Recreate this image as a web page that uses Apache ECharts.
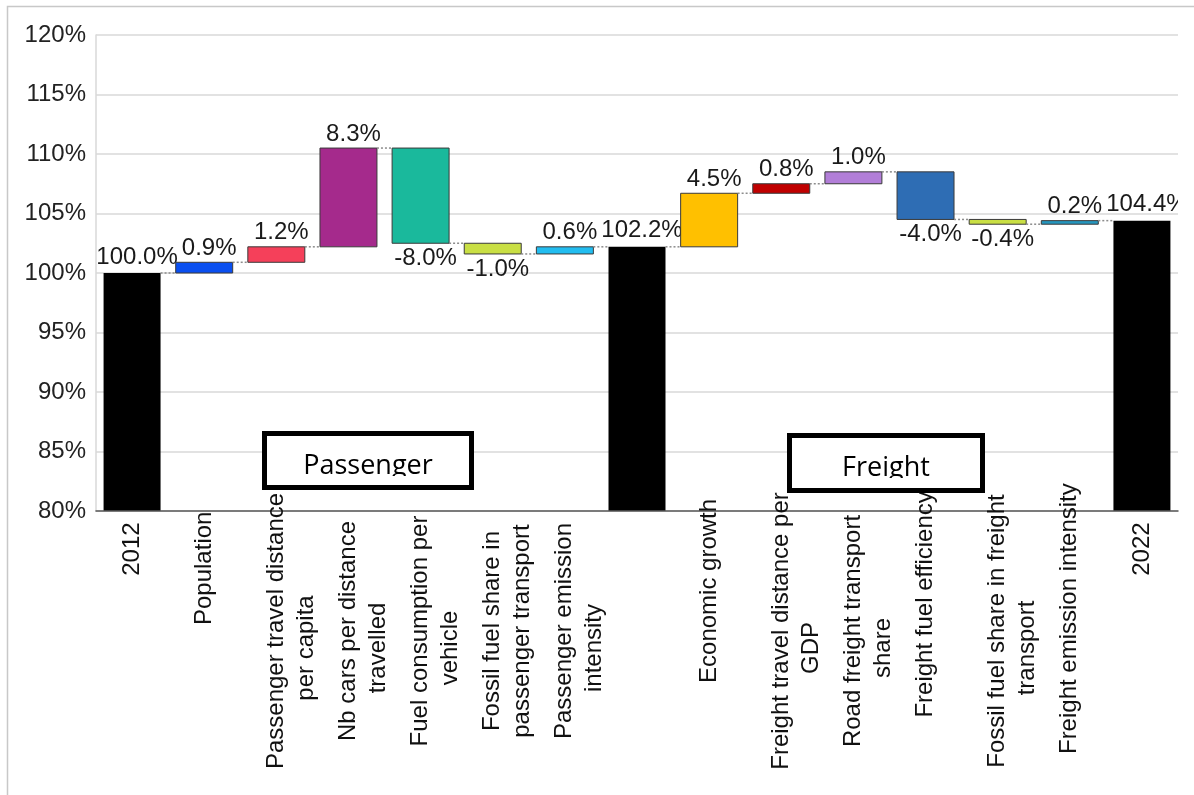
<!DOCTYPE html>
<html>
<head>
<meta charset="utf-8">
<script src="https://cdn.jsdelivr.net/npm/echarts@6/dist/echarts.min.js"></script>
<style>
html,body{margin:0;padding:0;background:#fff;}
#chart{width:1194px;height:795px;}
</style>
</head>
<body>
<div id="chart"></div>
<script>
// ---------- data ----------
const categories = [
  '2012',
  'Population',
  'Passenger travel distance\nper capita',
  'Nb cars per distance\ntravelled',
  'Fuel consumption per\nvehicle',
  'Fossil fuel share in\npassenger transport',
  'Passenger emission\nintensity',
  '',
  'Economic growth',
  'Freight travel distance per\nGDP',
  'Road freight transport\nshare',
  'Freight fuel efficiency',
  'Fossil fuel share in freight\ntransport',
  'Freight emission intensity',
  '2022'
];
// level bars (null = change bar)
const totalValues = [100.0, null, null, null, null, null, null, 102.2, null, null, null, null, null, null, 104.4];
// change bars, in percentage points (null = level bar)
const changeValues = [null, 0.9, 1.3, 8.3, -8.0, -0.9, 0.6, null, 4.5, 0.8, 1.0, -4.0, -0.4, 0.3, null];
// value labels as printed
const valueLabels = ['100.0%', '0.9%', '1.2%', '8.3%', '-8.0%', '-1.0%', '0.6%', '102.2%',
                     '4.5%', '0.8%', '1.0%', '-4.0%', '-0.4%', '0.2%', '104.4%'];
const barColors = ['#000000', '#0a4ff0', '#f5405a', '#a52a8c', '#1ab99c', '#c9df44', '#22bdf0', '#000000',
                   '#ffc000', '#c00000', '#b27ed8', '#2e6db4', '#c9df44', '#2596be', '#000000'];
const yMin = 80, yMax = 120, yStep = 5;
const boxTitles = ['Passenger', 'Freight'];

// ---------- waterfall rows ----------
let level = 0;
const rows = categories.map((c, i) => {
  if (totalValues[i] != null) {
    level = totalValues[i];
    return [i, 0, totalValues[i], totalValues[i], 1];
  }
  const s = level, e = level + changeValues[i];
  level = e;
  return [i, Math.min(s, e), Math.max(s, e), e, 0];
});

// ---------- layout ----------
const W = 1194, H = 795;
const gridLeft = 96, gridRight = 16, gridTop = 35, gridBottom = 284;
const axisY = H - gridBottom;
const labelMargin = -40;
const anchorY = axisY + labelMargin;
const FONT = '"Liberation Sans", Arial, sans-serif';

const mctx = document.createElement('canvas').getContext('2d');
mctx.font = '24px "Liberation Sans"';
const tw = s => mctx.measureText(s).width;

const rich = { blk: { lineHeight: 30, fontSize: 24, fontFamily: FONT } };
const axisLabelTexts = categories.map((c, i) => {
  if (!c) return '';
  const lines = c.split('\n');
  const w = lines.map(tw);
  let centers;
  if (lines.length === 1) {
    const top = 532 - 0.18 * w[0];
    centers = [top + w[0] / 2];
  } else {
    const c1 = 631;
    centers = [c1, w[1] < w[0] ? c1 + 17 : c1];
  }
  const parts = lines.map((ln, j) => {
    const key = 'r' + i + 'x' + j;
    const top = centers[j] - w[j] / 2;
    rich[key] = {
      align: 'right', padding: [0, Math.max(0, top - anchorY), 0, 0],
      lineHeight: 30, fontSize: 24, fontFamily: FONT, color: '#111'
    };
    return '{' + key + '|' + ln + '}';
  });
  return lines.length > 1 ? '{blk| }\n' + parts.join('\n') : parts[0];
});

function renderItem(params, api) {
  const i = api.value(0), lo = api.value(1), hi = api.value(2), end = api.value(3), isTotal = api.value(4);
  const band = api.size([1, 0])[0];
  const bw = band * 0.79;
  const pTop = api.coord([i, hi]);
  const pBot = api.coord([i, lo]);
  const cx = pTop[0];
  const children = [{
    type: 'rect',
    shape: { x: cx - bw / 2, y: pTop[1], width: bw, height: pBot[1] - pTop[1] },
    style: { fill: barColors[i], stroke: isTotal ? '#000' : '#3a3a3a', lineWidth: isTotal ? 0 : 1 }
  }];
  if (i < categories.length - 1) {
    const pe = api.coord([i, end]);
    children.push({
      type: 'line',
      shape: { x1: cx + bw / 2, y1: pe[1], x2: cx + band - bw / 2, y2: pe[1] },
      style: { stroke: '#8c8c8c', lineWidth: 1.5, lineDash: [2, 2] }
    });
  }
  const neg = !isTotal && changeValues[i] < 0;
  children.push({
    type: 'text',
    x: cx + 5,
    y: neg ? pBot[1] + 3 : pTop[1] - (isTotal ? 4 : 2),
    style: {
      text: valueLabels[i], fill: '#1a1a1a', font: '24px ' + FONT,
      align: 'center', verticalAlign: neg ? 'top' : 'bottom'
    }
  });
  return { type: 'group', children };
}

function boxGraphics(title, x0, y0, x1, y1, baseline, cx, zb) {
  const lw = 5;
  return [
    { type: 'rect', z: zb, silent: true,
      shape: { x: x0, y: y0, width: x1 - x0, height: y1 - y0 }, style: { fill: '#fff' } },
    { type: 'text', z: zb + 1, silent: true, x: cx, y: baseline + 3,
      style: { text: title, font: '27px "Open Sans", "Noto Sans", sans-serif', fill: '#000',
               align: 'center', verticalAlign: 'bottom' } },
    { type: 'rect', z: zb + 2, silent: true,
      shape: { x: x0 + lw, y: baseline - 1, width: x1 - x0 - 2 * lw, height: y1 - lw - baseline + 1 },
      style: { fill: '#fff' } },
    { type: 'rect', z: zb + 3, silent: true,
      shape: { x: x0 + lw / 2, y: y0 + lw / 2, width: x1 - x0 - lw, height: y1 - y0 - lw },
      style: { fill: 'none', stroke: '#000', lineWidth: lw } }
  ];
}

const chart = echarts.init(document.getElementById('chart'), null, { renderer: 'canvas', width: W, height: H });
chart.setOption({
  animation: false,
  backgroundColor: '#fff',
  grid: { left: gridLeft, right: gridRight, top: gridTop, bottom: gridBottom, containLabel: false, outerBoundsMode: 'none' },
  xAxis: {
    type: 'category',
    data: categories,
    boundaryGap: true,
    axisTick: { show: false },
    axisLine: { show: true, lineStyle: { color: '#595959', width: 1.5 } },
    splitLine: { show: false },
    axisLabel: {
      interval: 0, rotate: 90, margin: labelMargin,
      fontSize: 24, fontFamily: FONT, color: '#111',
      formatter: (v, idx) => axisLabelTexts[idx],
      rich: rich
    },
    z: 3
  },
  yAxis: {
    type: 'value',
    min: yMin, max: yMax, interval: yStep,
    axisLine: { show: true, lineStyle: { color: '#d9d9d9', width: 1.5 } },
    axisTick: { show: false },
    splitLine: { show: true, lineStyle: { color: '#d9d9d9', width: 1.5 } },
    axisLabel: { formatter: '{value}%', fontSize: 24, fontFamily: FONT, color: '#222', margin: 10 }
  },
  series: [{
    type: 'custom',
    renderItem: renderItem,
    clip: true,
    encode: { x: 0, y: [1, 2] },
    data: rows,
    z: 2
  }],
  graphic: [
    { type: 'rect', z: -10, silent: true, shape: { x: 7.5, y: 6.5, width: 1300, height: 900 },
      style: { fill: 'none', stroke: '#c8c8c8', lineWidth: 1.5 } },
    ...boxGraphics(boxTitles[0], 262, 431, 474, 490, 477, 368, 100),
    ...boxGraphics(boxTitles[1], 787, 433, 985, 493, 479, 886, 110)
  ]
});
</script>
</body>
</html>
